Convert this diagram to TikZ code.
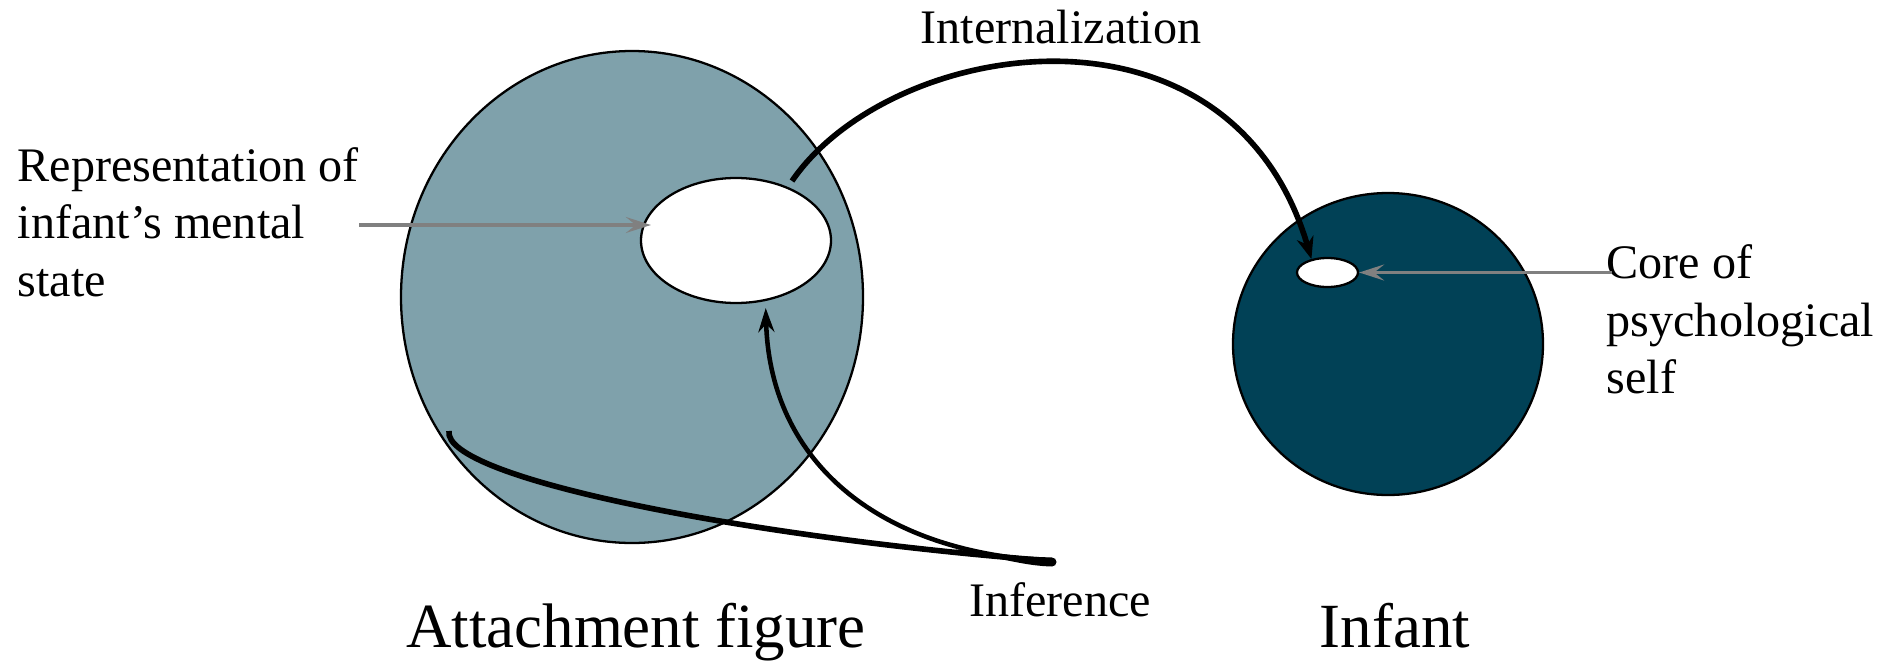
\documentclass[tikz,border=0pt]{standalone}
\usepackage{fontspec}
\setmainfont{Liberation Serif}
\usetikzlibrary{shapes.geometric, arrows.meta, positioning}
\definecolor{attachblue}{RGB}{127,161,171}
\definecolor{infantblue}{RGB}{1,65,86}
\definecolor{pointergray}{RGB}{128,128,128}

\begin{document}
\begin{tikzpicture}[
    blob/.style={ellipse, draw=black, line width=0.65pt, inner sep=0pt},
    sidetext/.style={font=\fontsize{13.7}{16.4}\selectfont, inner sep=0pt, align=left},
    nametext/.style={font=\fontsize{17.9}{21}\selectfont, inner sep=0pt},
    bigarrow/.style={-{Stealth[length=2.2mm, width=1.7mm, inset=0.7mm]}, line width=1.6pt},
    thinarrow/.style={-{Stealth[length=2.4mm, width=1.6mm, inset=0.8mm]}, line width=1.3pt},
    pointer/.style={-{Stealth[length=2.5mm, width=1.6mm, inset=1mm]}, line width=0.9pt, pointergray}
]
\useasboundingbox (0,0) rectangle (18.81,6.63);

% Attachment figure
\node[blob, fill=attachblue, minimum width=4.62cm, minimum height=4.92cm] (attach) at (6.32,3.66) {};
\node[blob, fill=white, minimum width=1.90cm, minimum height=1.25cm] (rep) at (7.36,4.225) {};

% Infant
\node[blob, fill=infantblue, minimum width=3.10cm, minimum height=3.02cm] (infant) at (13.88,3.19) {};
\node[blob, fill=white, minimum width=0.61cm, minimum height=0.29cm] (core) at (13.275,3.905) {};

% Texts
\node[sidetext, anchor=west] (replabel) at (0.17,4.41) {Representation of\\infant's mental\\state};
\node[sidetext, anchor=west] (corelabel) at (16.06,3.435) {Core of\\psychological\\self};
\node[sidetext, anchor=base] (intlabel) at (10.61,6.20) {Internalization};
\node[sidetext, anchor=base] (inflabel) at (10.60,0.47) {Inference};
\node[nametext, anchor=base] (attachname) at (6.36,0.16) {Attachment figure};
\node[nametext, anchor=base] (infantname) at (13.95,0.16) {Infant};

% Internalization
\coordinate (intfrom) at (7.92,4.82);
\draw[bigarrow] (intfrom) .. controls (8.9,6.25) and (12.3,6.8) .. (core.140);

% Inference
\coordinate (hook) at (4.49,2.32);
\coordinate (tail) at (10.52,1.02);
\draw[line width=1.6pt] (hook) .. controls (4.42,1.85) and (7.5,1.25) .. (tail);
\draw[thinarrow, shorten >=0.7mm] (tail) .. controls (8.8,1.1) and (7.7,2.0) .. (rep.-64);
\fill[shift={(tail)}] (-0.97,0.12) .. controls (-0.5,0.02) and (-0.25,-0.05) .. (0,-0.055) arc[start angle=-90, end angle=90, radius=0.045] .. controls (-0.4,0.05) .. (-0.97,0.12) -- cycle;

% Pointers
\draw[pointer, shorten >=-1.1mm] ([yshift=-0.3mm]replabel.east) -- ([yshift=-0.3mm]replabel.east -| rep.west);
\draw[pointer, shorten <=-0.6mm] (core.east -| corelabel.west) -- (core.east);

\end{tikzpicture}
\end{document}
